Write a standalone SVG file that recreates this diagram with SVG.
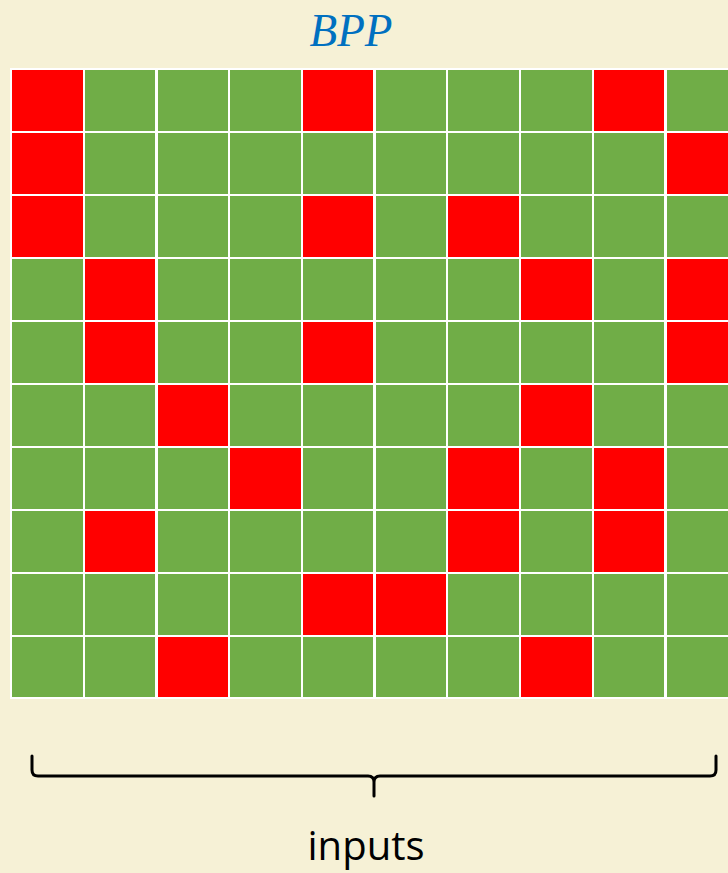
<svg xmlns="http://www.w3.org/2000/svg" width="728" height="873" viewBox="0 0 728 873">
<style>
.g{fill:#70AD47}
.r{fill:#FF0000}
.brace{fill:none;stroke:#000;stroke-width:3;stroke-linejoin:round;stroke-linecap:round}
</style>
<rect x="0" y="0" width="728" height="873" fill="#F6F1D6"/>
<text id="title" x="351" y="46" text-anchor="middle" font-family="Liberation Serif, serif" font-style="italic" font-size="46" fill="#0070C0" textLength="83" lengthAdjust="spacingAndGlyphs">BPP</text>
<g id="grid">
<rect x="10" y="68" width="740" height="631" fill="#FFFFFF"/>
</g>
<g id="r0">
<rect class="r" x="12" y="70" width="71" height="61"/><rect class="g" x="85" y="70" width="70" height="61"/><rect class="g" x="158" y="70" width="70" height="61"/><rect class="g" x="230" y="70" width="71" height="61"/><rect class="r" x="303" y="70" width="70" height="61"/><rect class="g" x="376" y="70" width="70" height="61"/><rect class="g" x="448" y="70" width="71" height="61"/><rect class="g" x="521" y="70" width="71" height="61"/><rect class="r" x="594" y="70" width="70" height="61"/><rect class="g" x="667" y="70" width="70" height="61"/>
</g>
<g id="r1">
<rect class="r" x="12" y="133" width="71" height="61"/><rect class="g" x="85" y="133" width="70" height="61"/><rect class="g" x="158" y="133" width="70" height="61"/><rect class="g" x="230" y="133" width="71" height="61"/><rect class="g" x="303" y="133" width="70" height="61"/><rect class="g" x="376" y="133" width="70" height="61"/><rect class="g" x="448" y="133" width="71" height="61"/><rect class="g" x="521" y="133" width="71" height="61"/><rect class="g" x="594" y="133" width="70" height="61"/><rect class="r" x="667" y="133" width="70" height="61"/>
</g>
<g id="r2">
<rect class="r" x="12" y="196" width="71" height="61"/><rect class="g" x="85" y="196" width="70" height="61"/><rect class="g" x="158" y="196" width="70" height="61"/><rect class="g" x="230" y="196" width="71" height="61"/><rect class="r" x="303" y="196" width="70" height="61"/><rect class="g" x="376" y="196" width="70" height="61"/><rect class="r" x="448" y="196" width="71" height="61"/><rect class="g" x="521" y="196" width="71" height="61"/><rect class="g" x="594" y="196" width="70" height="61"/><rect class="g" x="667" y="196" width="70" height="61"/>
</g>
<g id="r3">
<rect class="g" x="12" y="259" width="71" height="61"/><rect class="r" x="85" y="259" width="70" height="61"/><rect class="g" x="158" y="259" width="70" height="61"/><rect class="g" x="230" y="259" width="71" height="61"/><rect class="g" x="303" y="259" width="70" height="61"/><rect class="g" x="376" y="259" width="70" height="61"/><rect class="g" x="448" y="259" width="71" height="61"/><rect class="r" x="521" y="259" width="71" height="61"/><rect class="g" x="594" y="259" width="70" height="61"/><rect class="r" x="667" y="259" width="70" height="61"/>
</g>
<g id="r4">
<rect class="g" x="12" y="322" width="71" height="61"/><rect class="r" x="85" y="322" width="70" height="61"/><rect class="g" x="158" y="322" width="70" height="61"/><rect class="g" x="230" y="322" width="71" height="61"/><rect class="r" x="303" y="322" width="70" height="61"/><rect class="g" x="376" y="322" width="70" height="61"/><rect class="g" x="448" y="322" width="71" height="61"/><rect class="g" x="521" y="322" width="71" height="61"/><rect class="g" x="594" y="322" width="70" height="61"/><rect class="r" x="667" y="322" width="70" height="61"/>
</g>
<g id="r5">
<rect class="g" x="12" y="385" width="71" height="61"/><rect class="g" x="85" y="385" width="70" height="61"/><rect class="r" x="158" y="385" width="70" height="61"/><rect class="g" x="230" y="385" width="71" height="61"/><rect class="g" x="303" y="385" width="70" height="61"/><rect class="g" x="376" y="385" width="70" height="61"/><rect class="g" x="448" y="385" width="71" height="61"/><rect class="r" x="521" y="385" width="71" height="61"/><rect class="g" x="594" y="385" width="70" height="61"/><rect class="g" x="667" y="385" width="70" height="61"/>
</g>
<g id="r6">
<rect class="g" x="12" y="448" width="71" height="61"/><rect class="g" x="85" y="448" width="70" height="61"/><rect class="g" x="158" y="448" width="70" height="61"/><rect class="r" x="230" y="448" width="71" height="61"/><rect class="g" x="303" y="448" width="70" height="61"/><rect class="g" x="376" y="448" width="70" height="61"/><rect class="r" x="448" y="448" width="71" height="61"/><rect class="g" x="521" y="448" width="71" height="61"/><rect class="r" x="594" y="448" width="70" height="61"/><rect class="g" x="667" y="448" width="70" height="61"/>
</g>
<g id="r7">
<rect class="g" x="12" y="511" width="71" height="61"/><rect class="r" x="85" y="511" width="70" height="61"/><rect class="g" x="158" y="511" width="70" height="61"/><rect class="g" x="230" y="511" width="71" height="61"/><rect class="g" x="303" y="511" width="70" height="61"/><rect class="g" x="376" y="511" width="70" height="61"/><rect class="r" x="448" y="511" width="71" height="61"/><rect class="g" x="521" y="511" width="71" height="61"/><rect class="r" x="594" y="511" width="70" height="61"/><rect class="g" x="667" y="511" width="70" height="61"/>
</g>
<g id="r8">
<rect class="g" x="12" y="574" width="71" height="61"/><rect class="g" x="85" y="574" width="70" height="61"/><rect class="g" x="158" y="574" width="70" height="61"/><rect class="g" x="230" y="574" width="71" height="61"/><rect class="r" x="303" y="574" width="70" height="61"/><rect class="r" x="376" y="574" width="70" height="61"/><rect class="g" x="448" y="574" width="71" height="61"/><rect class="g" x="521" y="574" width="71" height="61"/><rect class="g" x="594" y="574" width="70" height="61"/><rect class="g" x="667" y="574" width="70" height="61"/>
</g>
<g id="r9">
<rect class="g" x="12" y="637" width="71" height="60"/><rect class="g" x="85" y="637" width="70" height="60"/><rect class="r" x="158" y="637" width="70" height="60"/><rect class="g" x="230" y="637" width="71" height="60"/><rect class="g" x="303" y="637" width="70" height="60"/><rect class="g" x="376" y="637" width="70" height="60"/><rect class="g" x="448" y="637" width="71" height="60"/><rect class="r" x="521" y="637" width="71" height="60"/><rect class="g" x="594" y="637" width="70" height="60"/><rect class="g" x="667" y="637" width="70" height="60"/>
</g>
<g id="brace">
<path class="brace" d="M32,756 L32,770 Q32,776 38,776 L368,776 Q374,776 374,782 L374,796 M374,782 Q374,776 380,776 L710,776 Q716,776 716,770 L716,756"/>
</g>
<text id="label" x="366" y="860" text-anchor="middle" font-family="Open Sans, Liberation Sans, sans-serif" font-size="40" fill="#000" textLength="117" lengthAdjust="spacingAndGlyphs">inputs</text>
</svg>
